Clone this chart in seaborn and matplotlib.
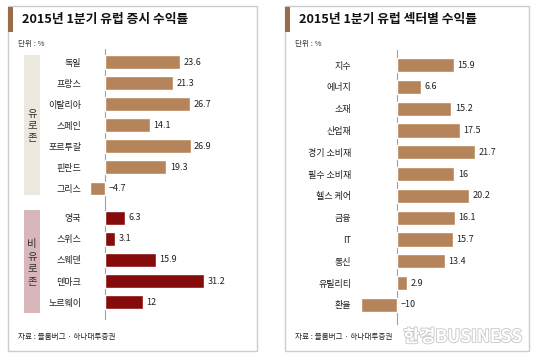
import numpy as np
import pandas as pd
import matplotlib
matplotlib.use('Agg')
import matplotlib.pyplot as plt
import matplotlib.patheffects as pe
from matplotlib.patches import Rectangle
import seaborn as sns

# --- data -------------------------------------------------------------
euro_countries = ['독일', '프랑스', '이탈리아', '스페인', '포르투갈', '핀란드', '그리스']
euro_returns = [23.6, 21.3, 26.7, 14.1, 26.9, 19.3, -4.7]
non_euro_countries = ['영국', '스위스', '스웨덴', '덴마크', '노르웨이']
non_euro_returns = [6.3, 3.1, 15.9, 31.2, 12]
group_names = ['유로존', '비유로존']

sectors = ['지수', '에너지', '소재', '산업재', '경기 소비재', '필수 소비재',
           '헬스 케어', '금융', 'IT', '통신', '유틸리티', '환율']
sector_returns = [15.9, 6.6, 15.2, 17.5, 21.7, 16, 20.2, 16.1, 15.7, 13.4, 2.9, -10]

titles = ['2015년 1분기 유럽 증시 수익률', '2015년 1분기 유럽 섹터별 수익률']
unit_text = '단위 : %'
source_text = '자료 : 블룸버그 · 하나대투증권'

BROWN = '#b5845a'
RED = '#860b0b'
ACCENT = '#9c6c48'
BORDER = '#c6cdd4'
TXT = '#222222'

sns.set_style('white')
plt.rcParams['font.family'] = ['Noto Sans CJK KR', 'DejaVu Sans']

W, H = 540, 360
fig = plt.figure(figsize=(5.4, 3.6), dpi=100)
fig.patch.set_facecolor('white')


def fbox(x0, y0, x1, y1):
    # pixel box (top-left origin) -> figure fraction rect
    return [x0 / W, 1 - y1 / H, (x1 - x0) / W, (y1 - y0) / H]


def frect(x0, y0, x1, y1, **kw):
    l, b, w, h = fbox(x0, y0, x1, y1)
    r = Rectangle((l, b), w, h, transform=fig.transFigure, **kw)
    fig.add_artist(r)
    return r


def ftext(x, y, s, **kw):
    return fig.text(x / W, 1 - y / H, s, **kw)


def fmt(v):
    return f'{v:g}'.replace('-', '−')


def style_axes(ax, df, label_col):
    ax.axvline(0, color='#a0a0a0', lw=0.8, zorder=0)
    for s in ax.spines.values():
        s.set_visible(False)
    ax.set_facecolor('none')
    ax.set_xticks([])
    ax.set_yticks(df['pos'], df[label_col])
    ax.tick_params(axis='y', length=0, pad=5, labelsize=6.5, labelcolor=TXT)
    ax.set_xlabel('')
    ax.set_ylabel('')
    for p, v in zip(df['pos'], df['ret']):
        ax.annotate(fmt(v), (max(v, 0), p), xytext=(2.5, 0), textcoords='offset points',
                    ha='left', va='center', fontsize=6.5, color=TXT)


# panels
for (x0, x1), title in zip([(8, 257), (285, 529)], titles):
    frect(x0, 6, x1, 351, facecolor='white', edgecolor=BORDER, lw=1, zorder=-2)
    frect(x0, 7, x0 + 4.5, 32, facecolor=ACCENT, edgecolor='none', zorder=-1)
    ftext(x0 + 14, 20, title, fontsize=9.2, fontweight='bold', color='#111111',
          ha='left', va='center')
    ftext(x0 + 10, 44, unit_text, fontsize=5.5, color='#333333', ha='left', va='center')
    ftext(x0 + 10, 337, source_text, fontsize=5.5, fontweight='medium', color='#222222',
          ha='left', va='center')

# --- left: stock markets ---------------------------------------------
stocks = pd.DataFrame({
    'country': euro_countries + non_euro_countries,
    'ret': euro_returns + non_euro_returns,
    'group': [group_names[0]] * len(euro_countries) + [group_names[1]] * len(non_euro_countries),
})
stocks['pos'] = np.arange(len(stocks)) + np.where(stocks['group'] == group_names[1], 0.4, 0.0)

axl = fig.add_axes(fbox(88, 49.4, 240, 320))
sns.barplot(data=stocks, x='ret', y='pos', hue='group', orient='h', native_scale=True,
            palette={group_names[0]: BROWN, group_names[1]: RED}, dodge=False,
            width=0.65, saturation=1, legend=False, ax=axl)
axl.set_xlim((88 - 105) / 3.18, (240 - 105) / 3.18)
axl.set_ylim(12.25, -0.6)
style_axes(axl, stocks, 'country')

# group side boxes
frect(24, 55, 40, 195, facecolor='#ede8df', edgecolor='none', zorder=-1)
frect(24, 210, 40, 313, facecolor='#d9b6b9', edgecolor='none', zorder=-1)
ftext(32, 126, '\n'.join(group_names[0]), fontsize=7.5, color='#333333',
      ha='center', va='center', linespacing=1.3)
ftext(32, 263, '\n'.join(group_names[1]), fontsize=7.5, color='#333333',
      ha='center', va='center', linespacing=1.3)

# --- right: sectors --------------------------------------------------
sec = pd.DataFrame({'sector': sectors, 'ret': sector_returns})
sec['pos'] = np.arange(len(sec)).astype(float)

axr = fig.add_axes(fbox(358, 50, 510, 325))
sns.barplot(data=sec, x='ret', y='pos', orient='h', native_scale=True, color=BROWN,
            width=0.65, saturation=1, ax=axr)
axr.set_xlim((358 - 397) / 3.58, (510 - 397) / 3.58)
axr.set_ylim(11.92, -0.69)
style_axes(axr, sec, 'sector')

# watermark
ftext(463, 337, '한경BUSINESS', fontsize=12.5, fontweight='bold', color='white',
      ha='center', va='center',
      path_effects=[pe.withStroke(linewidth=1.3, foreground='#c9c9c9')])

fig.savefig('out.png', dpi=100)
